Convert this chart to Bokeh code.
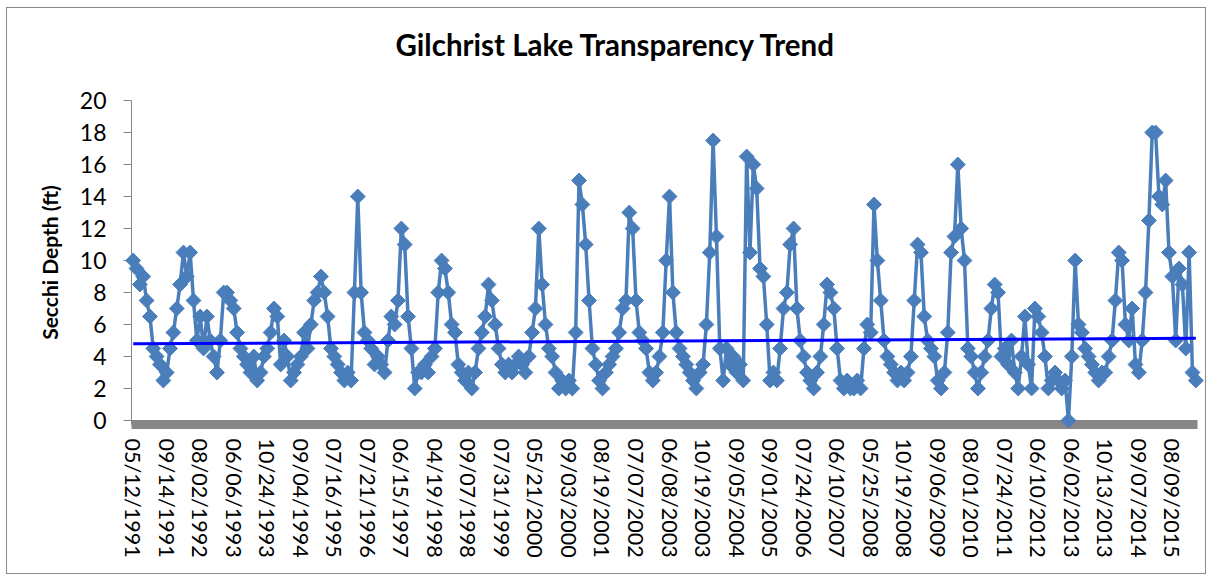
import numpy as np
from bokeh.plotting import figure
from bokeh.models import Range1d, FixedTicker, Title
from bokeh.embed import file_html
from bokeh.resources import INLINE

# ---- data ----
title_text = "Gilchrist Lake Transparency Trend"
tick_labels = ["05/12/1991", "09/14/1991", "08/02/1992", "06/06/1993", "10/24/1993",
               "09/04/1994", "07/16/1995", "07/21/1996", "06/15/1997", "04/19/1998",
               "09/07/1998", "07/31/1999", "05/21/2000", "09/03/2000", "08/19/2001",
               "07/07/2002", "06/08/2003", "10/19/2003", "09/05/2004", "09/01/2005",
               "07/24/2006", "06/10/2007", "05/25/2008", "10/19/2008", "09/06/2009",
               "08/01/2010", "07/24/2011", "06/10/2012", "06/02/2013", "10/13/2013",
               "09/07/2014", "08/09/2015"]
label_step = 10

secchi_1991_1995 = [10, 9.5, 8.5, 9, 7.5, 6.5, 4.5, 4, 3.5, 2.5,
                    3, 4.5, 5.5, 7, 8.5, 10.5, 9, 10.5, 7.5, 5,
                    6.5, 4.5, 6.5, 5, 4, 3, 5, 8, 8, 7.5,
                    7, 5.5, 4.5, 4, 3.5, 3, 4, 2.5, 3, 4,
                    4.5, 5.5, 7, 6.5, 3.5, 5, 4, 2.5, 3, 3.5,
                    4, 5.5, 4.5, 6, 7.5, 8, 9, 8, 6.5, 4.5]
secchi_1995_2001 = [4, 3.5, 3, 2.5, 3, 2.5, 8, 14, 8, 5.5,
                    5, 4.5, 3.5, 4, 3.5, 3, 5, 6.5, 6, 7.5,
                    12, 11, 6.5, 4.5, 2, 3, 3, 3.5, 3, 4,
                    4.5, 8, 10, 9.5, 8, 6, 5.5, 3.5, 3, 2.5,
                    3, 2, 3, 4.5, 5.5, 6.5, 8.5, 7.5, 6, 4.5,
                    3.5, 3, 3.5, 3, 3.5, 4, 3.5, 3, 4, 5.5]
secchi_2000_2005 = [7, 12, 8.5, 6, 4.5, 4, 3, 2, 2.5, 2,
                    2.5, 2, 5.5, 15, 13.5, 11, 7.5, 4.5, 3.5, 2.5,
                    2, 3, 3.5, 4, 4.5, 5.5, 7, 7.5, 13, 12,
                    7.5, 5.5, 5, 4.5, 3, 2.5, 3, 4, 5.5, 10,
                    14, 8, 5.5, 4.5, 4, 3.5, 3, 2.5, 2, 3,
                    3.5, 6, 10.5, 17.5, 11.5, 4.5, 2.5, 4.5, 3.5, 4,
                    3, 3.5, 2.5, 16.5, 10.5, 16, 14.5, 9.5, 9, 6]
secchi_2005_2010 = [2.5, 3, 2.5, 4.5, 7, 8, 11, 12, 7, 5,
                    4, 3, 2.5, 2, 3, 4, 6, 8.5, 8, 7,
                    4.5, 2.5, 2, 2.5, 2, 2, 2.5, 2, 4.5, 6,
                    5.5, 13.5, 10, 7.5, 5, 4, 3.5, 3, 2.5, 3,
                    2.5, 3, 4, 7.5, 11, 10.5, 6.5, 5, 4.5, 4,
                    2.5, 2, 3, 5.5, 10.5, 11.5, 16, 12, 10, 4.5,
                    4, 3, 2, 3, 4, 5, 7, 8.5, 8, 4]
secchi_2011_2015 = [4.5, 3.5, 5, 3, 2, 4, 6.5, 3.5, 2, 7,
                    6.5, 5.5, 4, 2, 2.5, 3, 2.5, 2, 2.5, 0,
                    4, 10, 6, 5.5, 4.5, 4, 3.5, 3, 2.5, 3,
                    3, 4, 5, 7.5, 10.5, 10, 6, 5, 7, 3.5,
                    3, 5, 8, 12.5, 18, 18, 14, 13.5, 15, 10.5,
                    9, 5, 9.5, 8.5, 4.5, 10.5, 3, 2.5]

# linear trend line as read at the first and last sample
trend_ends = [4.79, 5.14]

secchi = secchi_1991_1995 + secchi_1995_2001 + secchi_2000_2005 + secchi_2005_2010 + secchi_2011_2015
n = len(secchi)
idx = np.arange(n)

# ---- figure ----
W, H = 1200, 567
p = figure(width=W, height=H, output_backend="svg", toolbar_location=None,
           x_range=Range1d(-0.5, n - 0.5), y_range=Range1d(-0.25, 20),
           min_border_left=124, min_border_right=10, min_border_top=92, min_border_bottom=151)
p.styles = {"border": "1px solid #8a8a8a", "margin-left": "6px", "margin-top": "7px"}
p.background_fill_color = "white"
p.border_fill_color = "white"
p.outline_line_color = None
p.grid.visible = False

# spacer between plot area and the title
p.add_layout(Title(text=" ", text_font_size="1px", standoff=31), "above")

p.title.text = title_text
p.title.text_font = "Lato"
p.title.text_font_size = "29.5px"
p.title.text_font_style = "bold"
p.title.align = "left"
p.title.offset = 264
p.title.standoff = 10
p.title.text_color = "black"

blue = "#4a7ebb"
p.line(idx, secchi, line_color=blue, line_width=3.5, level="overlay")
p.scatter(idx, secchi, marker="square", size=10.5, angle=np.pi / 4,
          fill_color=blue, line_color=blue, level="overlay")
p.line([idx[0], idx[-1]], trend_ends, line_color="#0000ff", line_width=3, level="overlay")

# y axis
ya = p.yaxis[0]
ya.ticker = FixedTicker(ticks=list(range(0, 21, 2)))
ya.axis_label = "Secchi Depth (ft)"
ya.axis_label_text_font = "Lato"
ya.axis_label_text_font_size = "21px"
ya.axis_label_text_font_style = "bold"
ya.axis_label_text_color = "black"
ya.axis_label_standoff = 15
ya.major_label_text_font = "Lato"
ya.major_label_text_font_size = "23px"
ya.major_label_text_color = "black"
ya.major_label_standoff = 17
ya.axis_line_color = "#868686"
ya.major_tick_line_color = "#868686"
ya.major_tick_out = 8
ya.major_tick_in = 0
ya.minor_tick_line_color = None

# x axis
xa = p.xaxis[0]
xa.ticker = FixedTicker(ticks=list(range(0, n, label_step)))
xa.major_label_overrides = {i * label_step: lab for i, lab in enumerate(tick_labels)}
xa.major_label_orientation = "vertical"
xa.major_label_text_font = "Lato"
xa.major_label_text_font_size = "21.5px"
xa.major_label_text_color = "black"
xa.major_label_standoff = 14
xa.axis_line_color = "#878787"
xa.axis_line_width = 9
xa.major_tick_line_color = None
xa.major_tick_out = 0
xa.major_tick_in = 0
xa.minor_tick_line_color = None

open("out.html", "w").write(file_html(p, INLINE))
